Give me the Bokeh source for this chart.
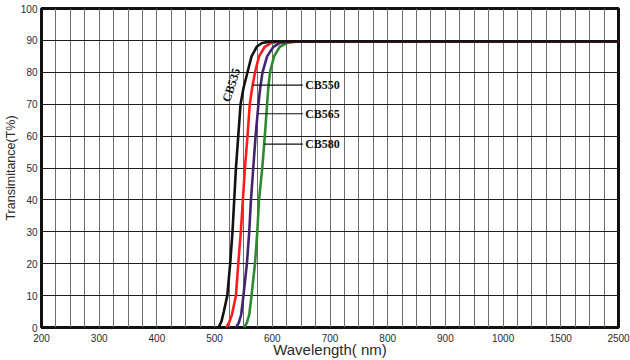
import numpy as np
from bokeh.plotting import figure
from bokeh.models import FixedTicker, Label, Range1d
from bokeh.embed import file_html
from bokeh.resources import INLINE

# piecewise wavelength axis (nm -> axis position)
AXIS_WL = [200, 1000, 1500, 2500]
AXIS_POS = [0, 8, 9, 10]
TICK_WL = [200, 300, 400, 500, 600, 700, 800, 900, 1000, 1500, 2500]
Y_TICKS = [0, 10, 20, 30, 40, 50, 60, 70, 80, 90, 100]

# series (wavelength nm, transmittance %)
cb535_wl = [507, 512, 516, 522, 527, 531, 534, 537, 541, 545, 550, 557, 564, 573, 582, 598, 2500]
cb535_t = [0, 2, 5, 10, 20, 30, 40, 50, 60, 70, 75, 80, 85, 88, 89.2, 89.7, 89.7]
cb550_wl = [520, 525, 530, 537, 541, 545.5, 549, 552.6, 557, 561, 565, 570, 577, 587, 598, 615, 2500]
cb550_t = [0, 1.5, 4, 10, 20, 30, 40, 50, 60, 70, 75, 80, 85, 88, 89.2, 89.7, 89.7]
cb565_wl = [537, 542, 546, 550, 556, 560, 563, 567, 571, 576, 579, 583, 591, 602, 613, 630, 2500]
cb565_t = [0, 1.5, 4, 10, 20, 30, 40, 50, 60, 70, 75, 80, 85, 88, 89.2, 89.7, 89.7]
cb580_wl = [551, 556, 560, 564, 570, 574, 577, 582.6, 587, 591, 593, 596, 603, 613, 626, 643, 2500]
cb580_t = [0, 1.5, 4, 10, 20, 30, 40, 50, 60, 70, 75, 80, 85, 88, 89.2, 89.7, 89.7]

series_names = ["CB580", "CB565", "CB550", "CB535"]
series_wl = [cb580_wl, cb565_wl, cb550_wl, cb535_wl]
series_t = [cb580_t, cb565_t, cb550_t, cb535_t]
series_colors = ["#2f8a2f", "#43226e", "#ff1c1c", "#121212"]

# annotations
leader_names = ["CB550", "CB565", "CB580"]
leader_t = [76, 67, 57.5]
leader_end_wl = 653
label_text_wl = 657
cb535_label_wl = 529
cb535_label_t = 76


def pos(wl):
    return np.interp(np.asarray(wl, dtype=float), AXIS_WL, AXIS_POS)


p = figure(width=630, height=360, output_backend="svg", toolbar_location=None,
           x_range=Range1d(0, 10), y_range=Range1d(0, 100),
           min_border_left=40, min_border_right=12, min_border_top=8, min_border_bottom=31)
p.background_fill_color = "white"
p.border_fill_color = "white"
p.outline_line_color = "#111111"
p.outline_line_width = 3

# axes
p.xaxis.ticker = FixedTicker(ticks=list(pos(TICK_WL)))
p.xaxis.major_label_overrides = {float(x): str(w) for x, w in zip(pos(TICK_WL), TICK_WL)}
p.yaxis.ticker = FixedTicker(ticks=Y_TICKS)
for ax in (p.xaxis[0], p.yaxis[0]):
    ax.axis_line_color = None
    ax.major_tick_line_color = None
    ax.minor_tick_line_color = None
    ax.major_tick_in = 0
    ax.major_tick_out = 0
    ax.minor_tick_in = 0
    ax.minor_tick_out = 0
    ax.major_label_text_font = "Liberation Sans"
    ax.major_label_text_font_size = "10px"
    ax.major_label_text_color = "#2a2a2a"
    ax.axis_label_text_font = "Liberation Sans"
    ax.axis_label_text_font_style = "normal"
    ax.axis_label_text_color = "#2a2a2a"
p.xaxis.major_label_standoff = 6
p.yaxis.major_label_standoff = 4
p.xaxis.axis_label = "Wavelength( nm)"
p.xaxis.axis_label_text_font_size = "15px"
p.xaxis.axis_label_standoff = -4
p.yaxis.axis_label = "Transimitance(T%)"
p.yaxis.axis_label_text_font_size = "12.5px"
p.yaxis.axis_label_standoff = 0

# grid
p.xgrid.ticker = FixedTicker(ticks=list(np.arange(0, 10.001, 0.25)))
p.xgrid.grid_line_color = "#6e6e6e"
p.xgrid.grid_line_width = 1
p.ygrid.grid_line_color = "#1e1e1e"
p.ygrid.grid_line_width = 1.2

# curves
for name, wl, t, c in zip(series_names, series_wl, series_t, series_colors):
    p.line(pos(wl), t, line_color=c, line_width=2.6)

# leader lines and labels
rising = {"CB550": (cb550_t[:-1], cb550_wl[:-1]),
          "CB565": (cb565_t[:-1], cb565_wl[:-1]),
          "CB580": (cb580_t[:-1], cb580_wl[:-1])}
for name, t in zip(leader_names, leader_t):
    tt, ww = rising[name]
    start = np.interp(t, tt, ww)
    p.line(pos([start, leader_end_wl]), [t, t], line_color="#111111", line_width=1.2)
    p.add_layout(Label(x=float(pos(label_text_wl)), y=t, text=name,
                       text_font="Liberation Serif", text_font_style="bold",
                       text_font_size="12px", text_color="#111111",
                       text_baseline="middle", text_align="left"))

p.add_layout(Label(x=float(pos(cb535_label_wl)), y=cb535_label_t, text="CB535",
                   angle=1.26, text_font="Liberation Serif", text_font_style="bold",
                   text_font_size="12px", text_color="#111111",
                   text_baseline="middle", text_align="center"))

open("out.html", "w").write(file_html(p, INLINE))
